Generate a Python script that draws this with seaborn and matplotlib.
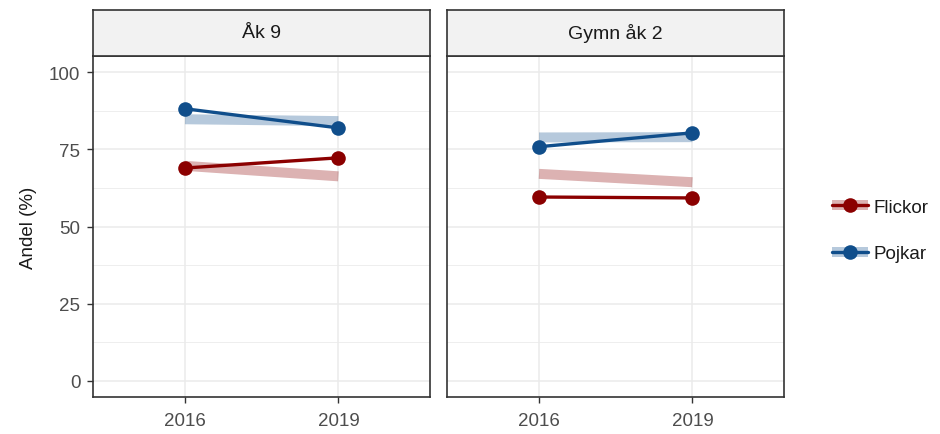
import pandas as pd
import matplotlib
matplotlib.use("Agg")
import matplotlib.pyplot as plt
from matplotlib.lines import Line2D
import seaborn as sns

# --- data ---
panels = ["Åk 9", "Gymn åk 2"]
years = [2016, 2019]
groups = ["Flickor", "Pojkar"]

# observed shares (%)
flickor_ak9 = [69.0, 72.3]
pojkar_ak9 = [88.2, 82.0]
flickor_gymn = [59.6, 59.3]
pojkar_gymn = [75.9, 80.4]

# comparison values shown as light bands (%)
flickor_ak9_ref = [69.7, 66.3]
pojkar_ak9_ref = [84.8, 84.2]
flickor_gymn_ref = [67.1, 64.4]
pojkar_gymn_ref = [78.9, 79.0]

colors = {"Flickor": "#8B0000", "Pojkar": "#104E8B"}


def build_frame(values, refs):
    rows = []
    for panel, (fl, pj), (fl_ref, pj_ref) in zip(panels, values, refs):
        for grp, vals, rvals in (("Flickor", fl, fl_ref), ("Pojkar", pj, pj_ref)):
            for yr, v, r in zip(years, vals, rvals):
                rows.append({"panel": panel, "kon": grp, "year": yr,
                             "andel": v, "ref": r})
    return pd.DataFrame(rows)


df = build_frame(
    [(flickor_ak9, pojkar_ak9), (flickor_gymn, pojkar_gymn)],
    [(flickor_ak9_ref, pojkar_ak9_ref), (flickor_gymn_ref, pojkar_gymn_ref)],
)

# --- plotting ---
sns.set_theme(style="white")
plt.rcParams["font.family"] = ["Liberation Sans", "DejaVu Sans"]

fig = plt.figure(figsize=(9.4, 4.35), dpi=100)

panel_bottom = 0.0851
panel_height = 0.7839
strip_height = 0.1057
panel_width = 0.3590
lefts = [0.0989, 0.4755]
border = "#333333"
fs = 13.5

for i, (panel, left) in enumerate(zip(panels, lefts)):
    ax = fig.add_axes([left, panel_bottom, panel_width, panel_height])
    sub = df[df["panel"] == panel]

    sns.lineplot(data=sub, x="year", y="ref", hue="kon", palette=colors,
                 hue_order=groups, linewidth=7.2, alpha=0.3,
                 solid_capstyle="butt", legend=False, ax=ax, zorder=2)
    sns.lineplot(data=sub, x="year", y="andel", hue="kon", palette=colors,
                 hue_order=groups, linewidth=2.4, marker="o", markersize=10.5,
                 markeredgewidth=0, legend=False, ax=ax, zorder=3)

    ax.set_xlim(2014.2, 2020.8)
    ax.set_ylim(-5.2, 105.3)
    ax.set_xticks(years)
    ax.set_xticklabels([str(y) for y in years])
    ax.set_yticks([0, 25, 50, 75, 100])
    ax.set_yticks([12.5, 37.5, 62.5, 87.5], minor=True)
    ax.grid(which="major", color="#EBEBEB", linewidth=1.1, zorder=0)
    ax.grid(which="minor", axis="y", color="#EBEBEB", linewidth=0.6, zorder=0)
    ax.set_axisbelow(True)
    ax.set_xlabel("")
    ax.set_ylabel("")
    for sp in ax.spines.values():
        sp.set_color(border)
        sp.set_linewidth(1.2)
    ax.tick_params(axis="both", which="major", direction="out", length=4,
                   width=1.0, color=border, labelcolor="#4D4D4D",
                   labelsize=fs, left=True, bottom=True)
    ax.tick_params(axis="x", which="major", pad=7)
    ax.tick_params(axis="y", which="major", pad=5)
    ax.tick_params(axis="y", which="minor", length=0)
    if i == 0:
        ax.set_ylabel("Andel (%)", fontsize=fs, color="#1A1A1A", labelpad=9)
    else:
        ax.tick_params(axis="y", which="both", left=False, labelleft=False)

    # facet strip
    strip = fig.add_axes([left, panel_bottom + panel_height, panel_width, strip_height])
    strip.set_facecolor("#F2F2F2")
    strip.set_xticks([])
    strip.set_yticks([])
    for sp in strip.spines.values():
        sp.set_color(border)
        sp.set_linewidth(1.2)
    strip.text(0.5, 0.5, panel, ha="center", va="center", fontsize=fs + 0.5,
               color="#1A1A1A", transform=strip.transAxes)

# legend: light band behind the line + marker
handles = []
for grp in groups:
    band = Line2D([], [], color=colors[grp], alpha=0.3, linewidth=7.2,
                  solid_capstyle="butt")
    line = Line2D([], [], color=colors[grp], linewidth=2.4, marker="o",
                  markersize=10.5, markeredgewidth=0)
    handles.append((band, line))

fig.legend(handles, groups, loc="center left", bbox_to_anchor=(0.885, 0.468),
           frameon=False, fontsize=fs, handlelength=1.95, handletextpad=0.25,
           labelspacing=1.55, borderpad=0, borderaxespad=0,
           labelcolor="#1A1A1A")

fig.savefig("out.png", dpi=100, facecolor="white")
